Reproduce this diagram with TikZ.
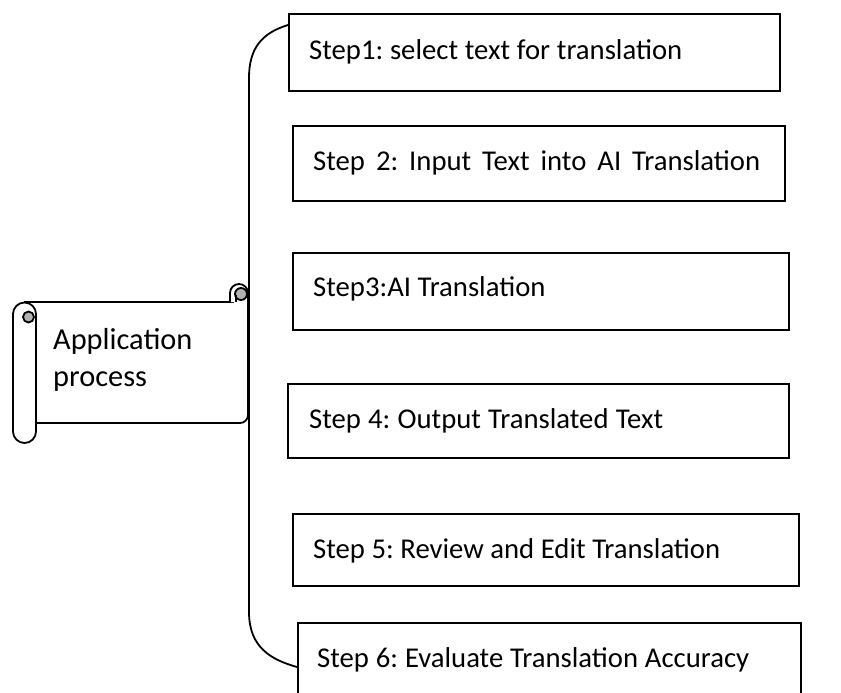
\documentclass[tikz,border=0pt]{standalone}
\usepackage{fontspec}
\setmainfont{Carlito}
\newcommand{\fitw}[2]{\makebox[#1][s]{\spaceskip=6bp plus 1fil minus 5bp\relax #2}}
\begin{document}
\frenchspacing
\begin{tikzpicture}[x=1bp,y=-1bp,
  stepbox/.style={draw, line width=1.8bp, anchor=north west, inner xsep=21bp, inner ysep=0pt,
    align=left, font=\fontsize{28.8}{34}\selectfont},
  steptext/.style={font=\fontsize{28.8}{34}\selectfont, anchor=west, inner sep=0pt},
  scrollline/.style={line width=1.8bp, line join=round},
  bracel/.style={line width=1.8bp}]
\clip (0,0) rectangle (841,693);
% step boxes
\node[stepbox, minimum width=491bp, minimum height=77bp] (b1) at (288,13) {};
\node[steptext] (t1) at (309,52) {\fitw{373bp}{Step1: select text for translation}};
\node[stepbox, minimum width=492bp, minimum height=75bp] (b2) at (292,125) {};
\node[steptext] (t2) at (313,163) {\fitw{447bp}{Step 2: Input Text into AI Translation}};
\node[stepbox, minimum width=496bp, minimum height=77bp] (b3) at (292,252) {};
\node[steptext] (t3) at (313,289) {Step3:AI Translation};
\node[stepbox, minimum width=501bp, minimum height=74bp] (b4) at (287,383) {};
\node[steptext] (t4) at (309,421) {\fitw{354bp}{Step 4: Output Translated Text}};
\node[stepbox, minimum width=506bp, minimum height=72bp] (b5) at (292,513) {};
\node[steptext] (t5) at (313,551) {\fitw{407bp}{Step 5: Review and Edit Translation}};
\node[stepbox, minimum width=503bp, minimum height=100bp] (b6) at (297,622) {};
\node[steptext] (t6) at (317,660) {\fitw{432bp}{Step 6: Evaluate Translation Accuracy}};
% scroll
\draw[scrollline] (36,423) -- (240,423) arc[start angle=90, end angle=0, radius=8] -- (248,292);
\draw[scrollline] (24,302) -- (234,302);
\draw[scrollline, fill=white] (230,302) -- (230,293) arc[start angle=180, end angle=360, radius=9] -- (248,302);
\draw[scrollline, fill=gray!60] (241,294) circle[radius=6];
\draw[scrollline] (236,295) -- (236,302);
\draw[scrollline, fill=white] (13,314) arc[start angle=180, end angle=360, radius=11.5] -- (36,431.5) arc[start angle=0, end angle=180, radius=11.5] -- cycle;
\draw[scrollline, fill=gray!60] (28.5,317) circle[radius=5.5];
\node[font=\fontsize{30.5}{37}\selectfont, align=left, anchor=north west, inner sep=0pt] (sc) at (53,328) {Application\\process};
% brace
\draw[bracel] ([yshift=-12bp]b1.north west) .. controls (262,33) and (249,48) .. (249,78) -- (249,612) .. controls (249,648) and (272,660) .. ([yshift=-45bp]b6.north west);
\end{tikzpicture}
\end{document}
